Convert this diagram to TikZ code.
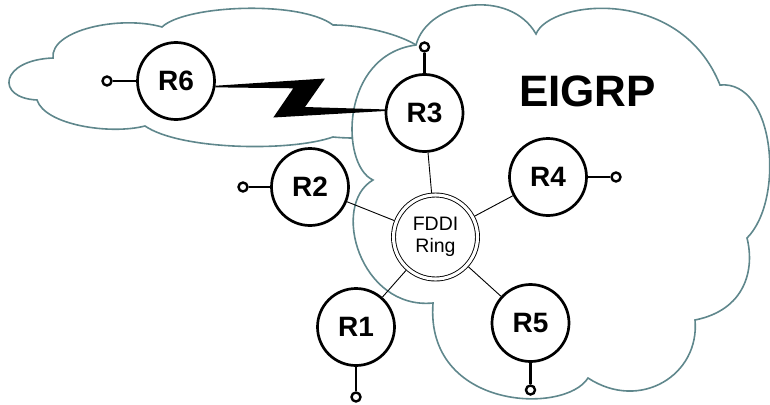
\documentclass[tikz,border=0pt]{standalone}
\usepackage{fontspec}
\setmainfont{Liberation Sans}
\usetikzlibrary{calc}
\definecolor{cloudc}{RGB}{95,135,140}
\begin{document}
\begin{tikzpicture}[x=1pt,y=-1pt,
  cloudline/.style={draw=cloudc, line width=1.6pt},
  router/.style={circle, draw=black, line width=2.7pt, fill=white, minimum size=77pt, inner sep=0pt, font=\fontsize{28}{30}\selectfont\bfseries},
  ringnode/.style={circle, draw=black, line width=0.9pt, double=white, double distance=3.1pt, fill=white, minimum size=84pt, inner sep=0pt, outer sep=2.4pt, align=center, font=\fontsize{19.5}{22}\selectfont},
  port/.style={circle, draw=black, line width=2.4pt, fill=white, minimum size=9pt, inner sep=0pt},
  stem/.style={line width=2.6pt},
  spoke/.style={line width=0.9pt}]
\useasboundingbox (0,0) rectangle (770,404);

% EIGRP cloud
\draw[cloudline] (416,45) .. controls (428,0) and (510,-12) .. (536,34)
  .. controls (550,0) and (680,-15) .. (720,85)
  .. controls (775,80) and (785,200) .. (747,238)
  .. controls (755,270) and (745,310) .. (695,320)
  .. controls (700,375) and (640,412) .. (588,378)
  .. controls (565,415) and (425,410) .. (433,303)
  .. controls (360,310) and (330,205) .. (373,180)
  .. controls (340,165) and (340,55) .. cycle;

% left cloud
\draw[cloudline] (353,138) .. controls (345,138) and (338,137.5) .. (333,137)
  .. controls (290,152) and (180,150) .. (145,126)
  .. controls (110,135) and (45,125) .. (37,100)
  .. controls (-5,98) and (0,60) .. (53,58)
  .. controls (50,30) and (120,15) .. (162,27)
  .. controls (185,5) and (300,0) .. (333,25)
  .. controls (365,25) and (400,35) .. (416,45);

% routers
\node[router] (r6) at (176,81) {R6};
\node[router] (r3) at (424.5,113) {R3};
\node[router] (r4) at (548,177) {R4};
\node[router] (r2) at (310,187) {R2};
\node[router] (r1) at (356,327) {R1};
\node[router] (r5) at (530.5,323) {R5};
\node[ringnode] (ring) at (435.5,237) {FDDI\\Ring};

% ports
\node[port] (p6) at (107,81) {};
\node[port] (p3) at (424.5,47) {};
\node[port] (p4) at (616,177) {};
\node[port] (p2) at (243,187) {};
\node[port] (p1) at (356,397) {};
\node[port] (p5) at (530.5,390) {};

\draw[stem] (p6) -- (r6);
\draw[stem] (p3) -- (r3);
\draw[stem] (p4) -- (r4);
\draw[stem] (p2) -- (r2);
\draw[stem] (p1) -- (r1);
\draw[stem] (p5) -- (r5);

% spokes to ring
\draw[spoke] (r3) -- (ring);
\draw[spoke] (r4) -- (ring);
\draw[spoke] (r2) -- (ring);
\draw[spoke] (r1) -- (ring);
\draw[spoke] (r5) -- (ring);

% serial link (lightning bolt)
\fill[black] ($(r6.-8)+(0,-0.8)$) -- (325,78.5) -- (305,107) -- ($(r3.176)+(0,-0.8)$)
  -- ($(r3.176)+(0,0.8)$) -- (273.3,117.5) -- (293.3,88.3) -- ($(r6.-8)+(0,0.8)$) -- cycle;

% label
\node[font=\fontsize{44}{50}\selectfont\bfseries, anchor=base, inner sep=0pt] (eigrp) at (587.5,106.7) {EIGRP};
\end{tikzpicture}
\end{document}
